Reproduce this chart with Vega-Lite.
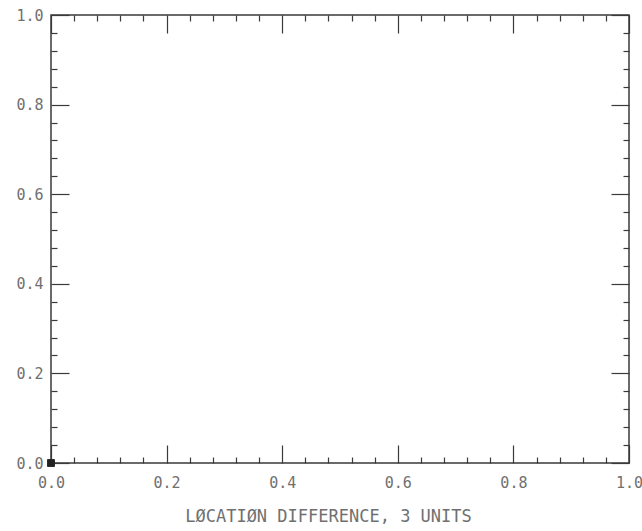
{
  "$schema": "https://vega.github.io/schema/vega-lite/v6.json",
  "width": 578,
  "height": 448,
  "autosize": {"type": "none"},
  "padding": {"left": 51, "top": 15, "right": 13, "bottom": 68},
  "background": "white",
  "data": {"values": [{"difference": 0.0, "value": 0.0}]},
  "config": {
    "view": {"stroke": "#3a3a3a", "strokeWidth": 1.5},
    "axis": {
      "domain": false,
      "grid": false,
      "labelFlush": false,
      "tickColor": "#3a3a3a",
      "tickWidth": 1.2,
      "labelFont": "DejaVu Sans Mono",
      "labelFontSize": 15,
      "labelColor": "#707070",
      "titleFont": "DejaVu Sans Mono",
      "titleFontSize": 17,
      "titleFontWeight": "normal",
      "titleColor": "#707070"
    }
  },
  "resolve": {"axis": {"x": "independent", "y": "independent"}},
  "layer": [
    {
      "mark": {"type": "square", "size": 50, "color": "#222222", "opacity": 1, "clip": false},
      "encoding": {
        "x": {"field": "difference", "type": "quantitative", "scale": {"domain": [0, 1], "nice": false},
          "axis": {"orient": "bottom", "values": [0, 0.2, 0.4, 0.6, 0.8, 1.0], "format": ".1f", "tickSize": -18, "labelPadding": 30, "title": "LØCATIØN DIFFERENCE, 3 UNITS", "titlePadding": 18, "titleX": 277}},
        "y": {"field": "value", "type": "quantitative", "scale": {"domain": [0, 1], "nice": false},
          "axis": {"orient": "left", "values": [0, 0.2, 0.4, 0.6, 0.8, 1.0], "format": ".1f", "tickSize": -18, "labelPadding": 26, "title": null}}
      }
    },
    {
      "mark": {"type": "square", "size": 50, "color": "#222222", "opacity": 1, "clip": false},
      "encoding": {
        "x": {"field": "difference", "type": "quantitative",
          "axis": {"orient": "bottom", "values": [0.04, 0.08, 0.12, 0.16, 0.24, 0.28, 0.32, 0.36, 0.44, 0.48, 0.52, 0.56, 0.64, 0.68, 0.72, 0.76, 0.84, 0.88, 0.92, 0.96], "tickSize": -6, "labels": false, "title": null}},
        "y": {"field": "value", "type": "quantitative",
          "axis": {"orient": "left", "values": [0.04, 0.08, 0.12, 0.16, 0.24, 0.28, 0.32, 0.36, 0.44, 0.48, 0.52, 0.56, 0.64, 0.68, 0.72, 0.76, 0.84, 0.88, 0.92, 0.96], "tickSize": -6, "labels": false, "title": null}}
      }
    },
    {
      "mark": {"type": "square", "size": 50, "color": "#222222", "opacity": 1, "clip": false},
      "encoding": {
        "x": {"field": "difference", "type": "quantitative",
          "axis": {"orient": "top", "values": [0, 0.2, 0.4, 0.6, 0.8, 1.0], "tickSize": -18, "labels": false, "title": null}},
        "y": {"field": "value", "type": "quantitative",
          "axis": {"orient": "right", "values": [0, 0.2, 0.4, 0.6, 0.8, 1.0], "tickSize": -18, "labels": false, "title": null}}
      }
    },
    {
      "mark": {"type": "square", "size": 50, "color": "#222222", "opacity": 1, "clip": false},
      "encoding": {
        "x": {"field": "difference", "type": "quantitative",
          "axis": {"orient": "top", "values": [0.04, 0.08, 0.12, 0.16, 0.24, 0.28, 0.32, 0.36, 0.44, 0.48, 0.52, 0.56, 0.64, 0.68, 0.72, 0.76, 0.84, 0.88, 0.92, 0.96], "tickSize": -6, "labels": false, "title": null}},
        "y": {"field": "value", "type": "quantitative",
          "axis": {"orient": "right", "values": [0.04, 0.08, 0.12, 0.16, 0.24, 0.28, 0.32, 0.36, 0.44, 0.48, 0.52, 0.56, 0.64, 0.68, 0.72, 0.76, 0.84, 0.88, 0.92, 0.96], "tickSize": -6, "labels": false, "title": null}}
      }
    }
  ]
}
